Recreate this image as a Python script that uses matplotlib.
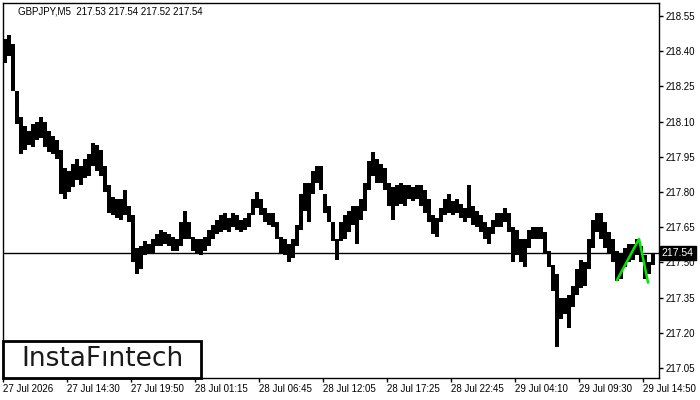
import matplotlib
matplotlib.use("Agg")
import matplotlib.pyplot as plt
from matplotlib.patches import Rectangle
import numpy as np

# 20-minute blocks (4 x M5 bars each)
highs = [218.45, 218.47, 218.43, 218.23, 218.12, 218.08, 218.06, 218.09, 218.10, 218.12,
         218.10, 218.06, 218.04, 218.02, 217.98, 217.90, 217.89, 217.92, 217.94, 217.91,
         217.94, 217.96, 218.01, 218.00, 217.98, 217.91, 217.83, 217.78, 217.77, 217.77,
         217.81, 217.74, 217.70, 217.56, 217.57, 217.59, 217.58, 217.60, 217.62, 217.64,
         217.63, 217.62, 217.61, 217.60, 217.67, 217.72, 217.67, 217.61, 217.60, 217.60,
         217.61, 217.64, 217.66, 217.68, 217.70, 217.71, 217.69, 217.71, 217.70, 217.68,
         217.69, 217.71, 217.77, 217.80, 217.77, 217.73, 217.71, 217.71, 217.67, 217.61,
         217.60, 217.58, 217.60, 217.66, 217.79, 217.84, 217.84, 217.89, 217.91, 217.91,
         217.79, 217.74, 217.67, 217.60, 217.67, 217.70, 217.72, 217.74, 217.74, 217.77,
         217.84, 217.93, 217.97, 217.94, 217.92, 217.90, 217.84, 217.82, 217.83, 217.84,
         217.83, 217.83, 217.82, 217.83, 217.83, 217.81, 217.77, 217.70, 217.69, 217.73,
         217.77, 217.79, 217.76, 217.77, 217.75, 217.73, 217.83, 217.74, 217.72, 217.70,
         217.67, 217.65, 217.68, 217.71, 217.71, 217.73, 217.71, 217.65, 217.64, 217.60,
         217.60, 217.64, 217.65, 217.65, 217.65, 217.63, 217.55, 217.49, 217.45, 217.35,
         217.35, 217.36, 217.40, 217.47, 217.51, 217.50, 217.60, 217.68, 217.71, 217.71,
         217.67, 217.63, 217.60, 217.55, 217.54, 217.56, 217.58, 217.58, 217.60, 217.57,
         217.53, 217.50, 217.54]
lows = [218.35, 218.38, 218.23, 218.09, 217.96, 217.98, 218.00, 217.99, 218.02, 218.03,
        217.99, 217.97, 217.96, 217.94, 217.79, 217.77, 217.80, 217.82, 217.85, 217.83,
        217.86, 217.87, 217.91, 217.89, 217.87, 217.80, 217.71, 217.70, 217.69, 217.68,
        217.70, 217.67, 217.50, 217.45, 217.47, 217.53, 217.54, 217.54, 217.57, 217.57,
        217.58, 217.57, 217.55, 217.55, 217.57, 217.60, 217.60, 217.55, 217.54, 217.53,
        217.55, 217.57, 217.60, 217.62, 217.63, 217.64, 217.63, 217.65, 217.64, 217.63,
        217.64, 217.65, 217.70, 217.73, 217.70, 217.67, 217.66, 217.65, 217.60, 217.54,
        217.53, 217.50, 217.52, 217.57, 217.64, 217.72, 217.67, 217.79, 217.84, 217.81,
        217.71, 217.67, 217.59, 217.51, 217.59, 217.60, 217.63, 217.66, 217.58, 217.68,
        217.72, 217.81, 217.87, 217.84, 217.84, 217.81, 217.74, 217.68, 217.74, 217.75,
        217.74, 217.77, 217.76, 217.77, 217.74, 217.71, 217.67, 217.62, 217.61, 217.67,
        217.70, 217.71, 217.70, 217.71, 217.69, 217.67, 217.69, 217.66, 217.65, 217.63,
        217.60, 217.58, 217.62, 217.65, 217.65, 217.67, 217.63, 217.50, 217.53, 217.50,
        217.48, 217.56, 217.60, 217.60, 217.60, 217.54, 217.48, 217.38, 217.14, 217.26,
        217.28, 217.22, 217.31, 217.36, 217.39, 217.40, 217.47, 217.56, 217.63, 217.60,
        217.56, 217.54, 217.50, 217.42, 217.43, 217.48, 217.50, 217.51, 217.53, 217.50,
        217.43, 217.45, 217.49]

bars_per_block = 4
last_price = 217.54
title = "GBPJPY,M5  217.53 217.54 217.52 217.54"

time_labels = ["27 Jul 2026", "27 Jul 14:30", "27 Jul 19:50", "28 Jul 01:15",
               "28 Jul 06:45", "28 Jul 12:05", "28 Jul 17:25", "28 Jul 22:45",
               "29 Jul 04:10", "29 Jul 09:30", "29 Jul 14:50"]
time_ticks = [0, 64, 128, 192, 256, 320, 384, 448, 512, 576, 640]  # bar index
price_ticks = [217.05, 217.20, 217.35, 217.50, 217.65, 217.80, 217.95,
               218.10, 218.25, 218.40, 218.55]

# pattern (green) points: bar index, price
pattern_x = [614, 636, 645]
pattern_y = [217.425, 217.60, 217.415]

plt.rcParams['font.family'] = ['Liberation Sans', 'DejaVu Sans']

fig = plt.figure(figsize=(7, 4), dpi=100)
ax = fig.add_axes([3/700, 22/400, 656/700, 375/400])

highs = np.array(highs)
lows = np.array(lows)
xs = np.arange(len(highs)) * bars_per_block
ax.bar(xs, highs - lows, bottom=lows, width=bars_per_block, align='edge',
       color='black', linewidth=0)

ax.axhline(last_price, color='black', linewidth=1)
ax.plot(pattern_x, pattern_y, color='#00e600', linewidth=1.8, zorder=5)

ax.set_xlim(0, 656)
ax.set_ylim(217.0074, 218.605)

ax.set_xticks(time_ticks)
ax.set_xticklabels(time_labels, fontsize=7)
for lbl in ax.get_xticklabels():
    lbl.set_horizontalalignment('left')
ax.tick_params(axis='x', direction='out', length=3, width=1, pad=1, colors='black')

ax.yaxis.tick_right()
ax.set_yticks(price_ticks)
ax.set_yticklabels([f"{p:.2f}" for p in price_ticks], fontsize=7)
ax.tick_params(axis='y', direction='out', length=3, width=1, pad=2, colors='black')

for s in ax.spines.values():
    s.set_color('black')
    s.set_linewidth(1)

# current price label on the right scale
ax.annotate(f"{last_price:.2f}", xy=(1.0, last_price), xycoords=('axes fraction', 'data'),
            xytext=(2, 0), textcoords='offset points', ha='left', va='center',
            fontsize=7.5, color='white',
            bbox=dict(boxstyle='square,pad=0.2', fc='black', ec='black'),
            annotation_clip=False, zorder=10)

fig.text(18/700, 1 - 11/400, title, fontsize=7, va='center', ha='left')

# logo box
fig.patches.append(Rectangle((3/700, 22/400), 198/700, 37/400, transform=fig.transFigure,
                             fc='white', ec='black', lw=2, zorder=20))
fig.text(102/700, 1 - 359/400, "InstaFıntech", fontsize=19, color='#1a1a1a',
         ha='center', va='center', family=['DejaVu Sans'], zorder=21)

fig.savefig("out.png", dpi=100)
